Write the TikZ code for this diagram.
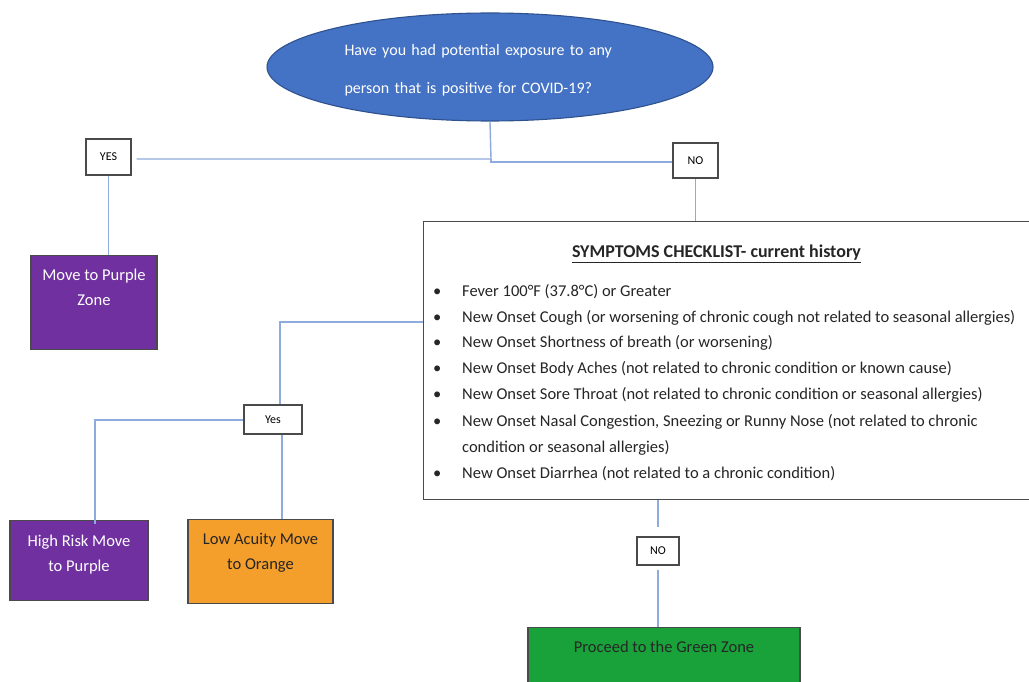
\documentclass[tikz,border=0pt]{standalone}
\usepackage{fontspec}
\setmainfont{Carlito}
\usetikzlibrary{shapes.geometric}
\definecolor{qblue}{HTML}{4472C4}
\definecolor{qblueborder}{HTML}{2F528F}
\definecolor{zpurple}{HTML}{7030A0}
\definecolor{zorange}{HTML}{F49E2C}
\definecolor{zgreen}{HTML}{19A13A}
\definecolor{conn}{HTML}{8FAADC}
\definecolor{boxline}{HTML}{4A4A4A}
\tikzset{
  conline/.style={draw=conn, line width=1.4pt},
  tagbox/.style={draw=boxline, fill=white, line width=1.1pt, inner sep=0pt, font=\fontsize{12}{14}\selectfont},
  zonebox/.style={draw=boxline, line width=1.1pt, inner xsep=0pt, inner ysep=0pt, anchor=north, align=center, font=\fontsize{16.5}{25}\selectfont},
  itemtext/.style={anchor=base west, inner sep=0pt, font=\fontsize{16.5}{26}\selectfont, text=black!85},
}
\newcommand{\bul}{\makebox[29pt][l]{\textbullet}}
\begin{document}
\begin{tikzpicture}[x=1pt, y=-1pt]
\useasboundingbox (0,0) rectangle (1029,682);
\clip (0,0) rectangle (1029,682);
\fill[white] (0,0) rectangle (1029,682);

% question ellipse
\node[ellipse, draw=qblueborder, fill=qblue, line width=1.1pt, minimum width=446pt, minimum height=108pt, inner sep=0pt,
  text=white, text width=291pt, text height=18pt, align=left, font=\fontsize{16}{38}\selectfont] (q) at (490,67)
  {Have you had potential exposure to any\\person that is positive for COVID-19?};

% first answers
\node[tagbox, minimum width=45pt, minimum height=36pt] (yes1) at (108.5,157) {YES};
\node[tagbox, minimum width=45pt, minimum height=35pt] (no1) at (695.5,160.5) {NO};

\node[zonebox, fill=zpurple, text=white, minimum width=126pt, text height=50pt, text depth=44pt] (purple1) at (94,255) {Move to Purple\\Zone};

% checklist box
\node[draw=boxline, line width=1.1pt, fill=white, minimum width=612pt, minimum height=278pt, anchor=north west, inner sep=0pt] (check) at (423,221) {};

\node[anchor=base, inner sep=0pt, font=\fontsize{18}{26}\selectfont\bfseries, text=black!85] (title) at (716.5,258) {\underline{SYMPTOMS CHECKLIST- current history}};
\node[itemtext] (i1) at (433,296) {\bul Fever 100°F (37.8°C) or Greater};
\node[itemtext] (i2) at (433,322) {\bul New Onset Cough (or worsening of chronic cough not related to seasonal allergies)};
\node[itemtext] (i3) at (433,347) {\bul New Onset Shortness of breath (or worsening)};
\node[itemtext] (i4) at (433,373) {\bul New Onset Body Aches (not related to chronic condition or known cause)};
\node[itemtext] (i5) at (433,399) {\bul New Onset Sore Throat (not related to chronic condition or seasonal allergies)};
\node[itemtext] (i6) at (433,426) {\bul New Onset Nasal Congestion, Sneezing or Runny Nose (not related to chronic};
\node[itemtext] (i6b) at (462,452) {condition or seasonal allergies)};
\node[itemtext] (i7) at (433,478) {\bul New Onset Diarrhea (not related to a chronic condition)};

% second answers
\node[tagbox, minimum width=58pt, minimum height=29pt] (yes2) at (273,419.5) {Yes};
\node[zonebox, fill=zpurple, text=white, minimum width=138pt, text height=51pt, text depth=29pt] (hr) at (79,520) {High Risk Move\\to Purple};
\node[zonebox, fill=zorange, text=black!85, minimum width=145pt, text height=50pt, text depth=34pt] (low) at (260.5,519) {Low Acuity Move\\to Orange};

\node[tagbox, minimum width=42pt, minimum height=28pt] (no2) at (658,551) {NO};
\node[draw=boxline, line width=1.1pt, fill=zgreen, text=black!85, minimum width=272pt, anchor=north, inner xsep=0pt, inner ysep=10pt,
  text height=15pt, text depth=45pt, font=\fontsize{16.5}{20}\selectfont] (green) at (664,627) {Proceed to the Green Zone};

% connectors
\coordinate (j1) at (491,159);
\draw[conline] (q.south) -- (j1) -- ([xshift=5pt]yes1.east |- j1);
\draw[conline] (j1) -- (491,162) -- (no1.west |- 0,162);
\draw[conline] (yes1.south) -- (yes1.south |- purple1.north);
\draw[conline] (no1.south) -- (no1.south |- check.north);

\coordinate (j2) at (280,322);
\draw[conline] (check.west |- j2) -- (j2) -- (j2 |- yes2.north);
\coordinate (j3) at (95,420);
\draw[conline] (yes2.west |- j3) -- (j3) -- ([yshift=-4pt]j3 |- hr.north);
\coordinate (j4) at (282,434);
\draw[conline] (j4 |- yes2.south) -- (j4 |- low.north);

\draw[conline, shorten >=9pt] (no2 |- check.south) -- (no2.north);
\draw[conline, shorten <=4pt] (no2.south) -- (no2 |- green.north);
\end{tikzpicture}
\end{document}
